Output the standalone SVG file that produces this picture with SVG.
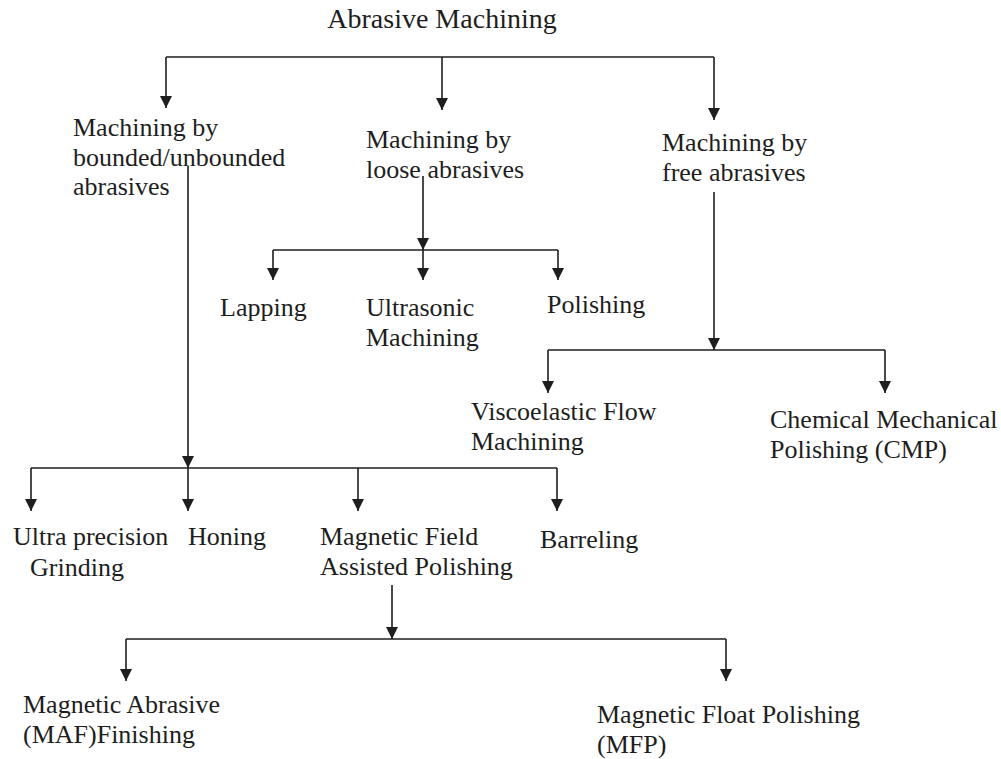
<svg xmlns="http://www.w3.org/2000/svg" width="1001" height="759" viewBox="0 0 1001 759">
  <style>
    text { font-family: "Liberation Serif", "Times New Roman", serif; font-size: 26px; fill: #1e1e1e; }
    .title { font-size: 28px; }
    .wire { fill: none; stroke: #1e1e1e; stroke-width: 1.6; }
  </style>
  <defs>
    <marker id="arrow" viewBox="0 0 12 12" refX="12" refY="6" markerWidth="12" markerHeight="12" markerUnits="userSpaceOnUse" orient="auto">
      <path d="M0,0 L12,6 L0,12 z" fill="#1e1e1e"/>
    </marker>
  </defs>
  <rect width="1001" height="759" fill="#ffffff"/>

  <g id="connectors">
    <!-- root branches -->
    <path class="wire" d="M166,57 H714"/>
    <path class="wire" d="M166,57 V108" marker-end="url(#arrow)"/>
    <path class="wire" d="M442,57 V110" marker-end="url(#arrow)"/>
    <path class="wire" d="M714,57 V120" marker-end="url(#arrow)"/>
    <!-- loose abrasives -->
    <path class="wire" d="M423,176 V250" marker-end="url(#arrow)"/>
    <path class="wire" d="M273,250 H558"/>
    <path class="wire" d="M273,250 V280" marker-end="url(#arrow)"/>
    <path class="wire" d="M423,250 V280" marker-end="url(#arrow)"/>
    <path class="wire" d="M558,250 V280" marker-end="url(#arrow)"/>
    <!-- free abrasives -->
    <path class="wire" d="M714,192 V350" marker-end="url(#arrow)"/>
    <path class="wire" d="M548,350 H885"/>
    <path class="wire" d="M548,350 V393" marker-end="url(#arrow)"/>
    <path class="wire" d="M885,350 V393" marker-end="url(#arrow)"/>
    <!-- bounded/unbounded abrasives -->
    <path class="wire" d="M188,166 V468" marker-end="url(#arrow)"/>
    <path class="wire" d="M31,468 H557"/>
    <path class="wire" d="M31,468 V511" marker-end="url(#arrow)"/>
    <path class="wire" d="M188,468 V511" marker-end="url(#arrow)"/>
    <path class="wire" d="M358,468 V511" marker-end="url(#arrow)"/>
    <path class="wire" d="M557,468 V511" marker-end="url(#arrow)"/>
    <!-- magnetic field assisted polishing -->
    <path class="wire" d="M392,585 V639" marker-end="url(#arrow)"/>
    <path class="wire" d="M126,639 H726"/>
    <path class="wire" d="M126,639 V681" marker-end="url(#arrow)"/>
    <path class="wire" d="M726,639 V681" marker-end="url(#arrow)"/>
  </g>

  <g id="abrasive-machining"><text class="title" x="442" y="28" text-anchor="middle">Abrasive Machining</text></g>

  <g id="bounded-abrasives">
    <text x="73" y="136">Machining by</text>
    <text x="73" y="166">bounded/unbounded</text>
    <text x="73" y="195">abrasives</text>
  </g>
  <g id="loose-abrasives">
    <text x="366" y="148">Machining by</text>
    <text x="366" y="178">loose abrasives</text>
  </g>
  <g id="free-abrasives">
    <text x="662" y="151">Machining by</text>
    <text x="662" y="181">free abrasives</text>
  </g>

  <g id="lapping"><text x="220" y="316">Lapping</text></g>
  <g id="ultrasonic-machining">
    <text x="366" y="316">Ultrasonic</text>
    <text x="366" y="346">Machining</text>
  </g>
  <g id="polishing"><text x="547" y="313">Polishing</text></g>

  <g id="viscoelastic-flow-machining">
    <text x="471" y="420">Viscoelastic Flow</text>
    <text x="471" y="450">Machining</text>
  </g>
  <g id="cmp">
    <text x="770" y="428">Chemical Mechanical</text>
    <text x="770" y="458">Polishing (CMP)</text>
  </g>

  <g id="ultra-precision-grinding">
    <text x="13" y="545">Ultra precision</text>
    <text x="30" y="576">Grinding</text>
  </g>
  <g id="honing"><text x="188" y="545">Honing</text></g>
  <g id="mfap">
    <text x="320" y="545">Magnetic Field</text>
    <text x="320" y="575">Assisted Polishing</text>
  </g>
  <g id="barreling"><text x="540" y="548">Barreling</text></g>

  <g id="maf">
    <text x="23" y="713">Magnetic Abrasive</text>
    <text x="23" y="743">(MAF)Finishing</text>
  </g>
  <g id="mfp">
    <text x="597" y="723">Magnetic Float Polishing</text>
    <text x="597" y="753">(MFP)</text>
  </g>
</svg>
